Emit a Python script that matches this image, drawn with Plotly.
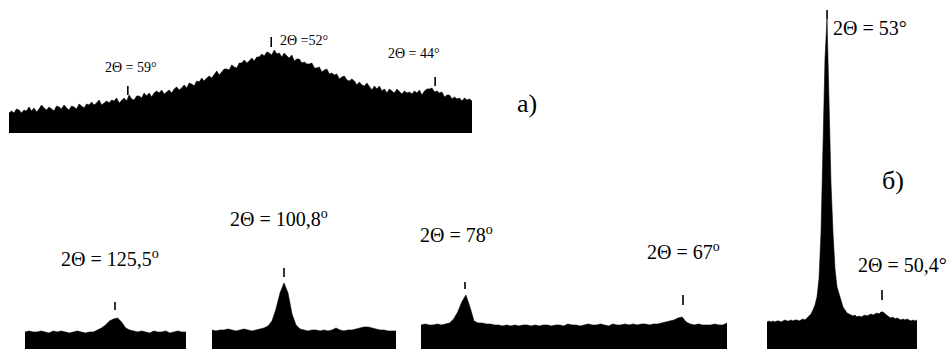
import numpy as np
import plotly.graph_objects as go

W, H = 951, 349

# ---------------- data (intensity, arbitrary units) ----------------
# a) amorphous halo, 2θ from 64.8° down to 42.2°
a_range = [64.8, 42.2]
a_vals = [20, 22, 20, 24, 23, 20, 23, 22, 26, 22, 25, 21, 24, 28, 25, 23, 26, 24, 22, 27,
          26, 24, 28, 25, 23, 27, 26, 24, 29, 27, 25, 29, 28, 31, 28, 30, 33, 28, 30, 32,
          30, 33, 32, 35, 30, 33, 35, 32, 38, 34, 33, 37, 37, 35, 40, 37, 40, 36, 40, 42,
          40, 43, 39, 41, 43, 40, 44, 46, 43, 45, 48, 45, 50, 49, 47, 52, 51, 55, 52, 55,
          57, 55, 59, 62, 58, 61, 64, 64, 63, 68, 66, 65, 70, 70, 73, 70, 72, 75, 72, 76,
          76, 79, 77, 81, 80, 78, 83, 79, 80, 76, 80, 77, 75, 78, 72, 74, 74, 70, 71, 69,
          69, 70, 65, 65, 66, 61, 63, 64, 59, 60, 58, 59, 54, 56, 57, 53, 52, 54, 52, 48,
          51, 48, 47, 50, 47, 43, 47, 44, 47, 42, 44, 40, 44, 42, 40, 44, 41, 39, 42, 40,
          41, 39, 42, 40, 43, 38, 42, 44, 44, 45, 41, 42, 40, 41, 36, 38, 38, 34, 36, 34,
          35, 32, 35, 33, 34, 32]

# б) crystalline segments
b1_range = [130.0, 121.95]
b1_vals = [17, 18, 17, 17, 18, 17, 16, 18, 17, 18,
           17, 16, 17, 18, 17, 16, 17, 17, 19, 21,
           24, 28, 30, 31, 27, 21, 19, 18, 17, 18,
           17, 16, 18, 17, 17, 18, 16, 17, 18, 17, 17]

b2_range = [104.4, 95.2]
b2_vals = [19, 18, 19, 19, 20, 19, 18, 19, 20, 19,
           18, 19, 20, 21, 23, 28, 40, 56, 66, 56,
           35, 24, 20, 19, 18, 19, 19, 18, 19, 18,
           19, 21, 19, 18, 19, 19, 20, 21, 22, 22,
           21, 20, 19, 19, 18, 18, 18]

b3_range = [80.22, 64.78]
b3_vals = [24, 25, 24, 24, 25, 24, 25, 26, 30, 37,
           47, 54, 42, 28, 26, 26, 25, 25, 24, 24,
           23, 24, 23, 24, 23, 24, 24, 23, 24, 23,
           24, 24, 23, 24, 24, 23, 25, 24, 24, 23,
           24, 25, 24, 24, 25, 24, 23, 25, 24, 24,
           25, 24, 25, 24, 25, 25, 24, 25, 25, 26,
           27, 28, 29, 31, 32, 27, 25, 24, 25, 24,
           24, 24, 25, 24, 24, 26]

b4_range = [55.84, 48.745]
b4_vals = [27, 28, 27, 28, 27, 28, 28, 27, 28, 29,
           28, 28, 29, 28, 29, 29, 28, 29, 30, 29,
           31, 32, 35, 39, 44, 52, 70, 116, 200, 290,
           330, 249, 165, 116, 80, 62, 55, 47, 42, 39,
           36, 35, 34, 33, 34, 32, 33, 32, 33, 34,
           33, 34, 35, 34, 35, 36, 35, 37, 37, 35,
           33, 32, 31, 32, 30, 31, 30, 29, 30, 29,
           30, 29, 28, 29, 28, 29]

# peak markers
a_peaks = [59.0, 52.0, 44.0]
a_labels = ["2Θ = 59°", "2Θ =52°", "2Θ = 44°"]
b_peaks = [("b1", 125.5), ("b2", 100.8), ("b3", 78.0), ("b3", 67.0), ("b4", 53.0), ("b4", 50.4)]
b_labels = ["2Θ = 125,5<sup>o</sup>", "2Θ = 100,8<sup>o</sup>", "2Θ = 78<sup>o</sup>",
            "2Θ = 67<sup>o</sup>", "2Θ = 53°", "2Θ = 50,4°"]

# ---------------- layout geometry (pixels) ----------------
panels = {
    "a":  (a_vals,  a_range,  9,   472, 1),
    "b1": (b1_vals, b1_range, 25,  186, 2),
    "b2": (b2_vals, b2_range, 212, 396, 3),
    "b3": (b3_vals, b3_range, 421, 727, 4),
    "b4": (b4_vals, b4_range, 767, 917, 5),
}

fig = go.Figure()
layout = dict(width=W, height=H, margin=dict(l=0, r=0, t=0, b=0, pad=0),
              paper_bgcolor="white", plot_bgcolor="rgba(0,0,0,0)", showlegend=False)

for name, (vals, rng, pl, pr, k) in panels.items():
    xs = np.linspace(rng[0], rng[1], len(vals))
    sfx = "" if k == 1 else str(k)
    fig.add_trace(go.Scatter(x=xs, y=vals, mode="lines", fill="tozeroy",
                             line=dict(color="black", width=0.6),
                             fillcolor="black", xaxis="x" + sfx, yaxis="y" + sfx,
                             hoverinfo="skip"))
    layout["xaxis" + sfx] = dict(domain=[pl / W, pr / W], range=rng, visible=False,
                                 anchor="y" + sfx, fixedrange=True)
    if name == "a":
        ydom = [1 - 133 / H, 1]
        yr = [0, 133]
    else:
        ydom = [0, 1]
        yr = [0, H]
    layout["yaxis" + sfx] = dict(domain=ydom, range=yr, visible=False,
                                 anchor="x" + sfx, fixedrange=True)

fig.update_layout(**layout)

axis_of = {"a": "", "b1": "2", "b2": "3", "b3": "4", "b4": "5"}

a_tick_spans = [(38, 47), (86, 96), (47, 56)]
for ang, (y0, y1) in zip(a_peaks, a_tick_spans):
    fig.add_shape(type="line", xref="x", yref="y", x0=ang, x1=ang, y0=y0, y1=y1,
                  line=dict(color="black", width=1.6))

b_tick_spans = [(39, 47), (72, 81), (60, 67), (44, 54), (330, 339), (49, 59)]
for (pn, ang), (y0, y1) in zip(b_peaks, b_tick_spans):
    s = axis_of[pn]
    fig.add_shape(type="line", xref="x" + s, yref="y" + s, x0=ang, x1=ang, y0=y0, y1=y1,
                  line=dict(color="black", width=1.6))

FONT = "Liberation Serif, Times New Roman, serif"

def ann(text, cx, cy, size):
    fig.add_annotation(text=text, x=cx / W, y=1 - cy / H, xref="paper", yref="paper",
                       showarrow=False, xanchor="center", yanchor="middle",
                       font=dict(family=FONT, size=size, color="black"))

a_label_pos = [(131, 67), (304, 41), (414, 53)]
for t, (cx, cy) in zip(a_labels, a_label_pos):
    ann(t, cx, cy, 14)

b_label_pos = [(110, 258), (279, 218), (456, 234), (683, 251), (870, 28), (902, 265)]
for t, (cx, cy) in zip(b_labels, b_label_pos):
    ann(t, cx, cy, 20)

ann("а)", 527, 103, 26)
ann("б)", 893, 180, 26)

fig.write_html("out.html", config={"displayModeBar": False},
               post_script="document.body.style.margin='0';document.body.style.padding='0';")
